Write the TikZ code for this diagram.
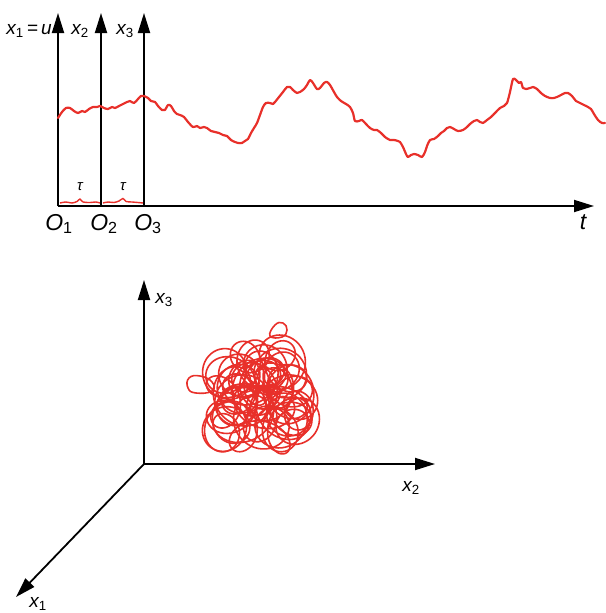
\documentclass[tikz,border=0pt]{standalone}
\usepackage{fontspec}
\setmainfont{Liberation Sans}
\usetikzlibrary{arrows.meta}
\definecolor{curvered}{HTML}{E8302A}
\tikzset{
  axis/.style={line width=1.8pt,-{Triangle[length=20pt,width=12pt]}},
  signal/.style={curvered,line width=2.2pt,line join=round,line cap=round},
  lbl/.style={font=\itshape\fontsize{19}{19}\selectfont,inner sep=0pt},
  olbl/.style={font=\itshape\fontsize{23}{23}\selectfont,inner sep=0pt},
  taul/.style={font=\itshape\fontsize{15}{15}\selectfont,inner sep=0pt},
  blob/.style={curvered,line width=1.6pt,line join=round},
}
\newcommand{\sub}[1]{\textsubscript{\upshape #1}}
\begin{document}
\begin{tikzpicture}[x=1pt,y=-1pt]
\useasboundingbox (0,0) rectangle (605,613);
% ---------- top diagram ----------
\coordinate (O1) at (58,206);
\coordinate (O2) at (101,206);
\coordinate (O3) at (144,206);
\coordinate (T1) at (58,13);
\coordinate (T2) at (101,13);
\coordinate (T3) at (144,13);
\coordinate (TE) at (594,206);
\draw[axis] (O1) -- (T1);
\draw[axis] (O2) -- (T2);
\draw[axis] (O3) -- (T3);
\draw[axis] (O1) -- (TE);
\node[lbl] (lx1) at (29,31) {x\sub{1}\,=\,u};
\node[lbl] (lx2) at (80,31) {x\sub{2}};
\node[lbl] (lx3) at (125,31) {x\sub{3}};
\node[olbl] (lO1) at (59,224) {O\sub{1}};
\node[olbl] (lO2) at (104,224) {O\sub{2}};
\node[olbl] (lO3) at (148,224) {O\sub{3}};
\node[olbl] (lt) at (583,222) {t};
\node[taul] (tau1) at (80,187) {τ};
\node[taul] (tau2) at (123,187) {τ};
% small correlation wiggles
\draw[curvered,line width=1.4pt] plot[smooth] coordinates {(60,203)(66,202)(72,203)(77,201.5)(80,199)(83,202)(90,202.5)(96,202)(100,203)};
\draw[curvered,line width=1.4pt] plot[smooth] coordinates {(103,203)(108,202)(114,202.5)(119,201)(123,198.5)(126,201.5)(132,202)(138,202.5)(143,203)};
% signal
\draw[signal] plot[smooth,tension=0.5] coordinates {
(58,118)(62,112)(66,108)(70,108)(74,111)(78,113)(82,111)(85,112)(89,109)(93,107)(97,107)(100,106)
(104,108)(108,109)(112,107)(115,108)(119,106)(123,104)(127,102)(130,101)(134,103)(138,99)(141,96)(144,96)
(148,98)(151,101)(155,102)(158,106)(162,110)(165,110)(168,105)(171,106)(174,111)(177,114)(180,115)(184,117)
(188,122)(193,127)(197,126)(200,128)(204,127)(207,128)(211,131)(215,132)(219,133)(223,135)(227,136)(231,140)
(235,142)(238,143)(242,143)(245,141)(248,139)(251,133)(254,128)(257,123)(260,115)(263,107)(266,103)(270,103)
(273,104)(275,102)(279,97)(283,92)(287,87)(290,87)(293,90)(297,93)(300,92)(304,89)(307,85)(310,80)
(313,83)(317,89)(320,88)(324,83)(327,82)(330,85)(334,92)(337,97)(341,101)(346,104)(350,107)(353,113)
(355,121)(359,121)(362,120)(366,124)(370,128)(374,130)(377,130)(381,133)(385,137)(390,140)(394,140)
(398,141)(400,142)(403,147)(406,154)(408,157)(411,155)(414,154)(418,155)(422,157)(425,152)(427,146)
(430,140)(434,139)(438,136)(441,133)(444,131)(447,128)(450,127)(454,129)(458,131)(463,130)(467,127)
(470,124)(474,121)(477,120)(480,122)(483,123)(487,120)(491,117)(495,113)(500,108)(504,106)(507,103)
(510,92)(513,79)(516,80)(519,83)(521,82)(523,88)(526,89)(530,88)(533,87)(537,89)(541,93)(545,96)
(550,98)(554,98)(557,97)(561,95)(565,93)(568,93)(572,96)(576,101)(580,103)(584,105)(588,107)(591,109)
(594,114)(598,120)(602,123)(605,123)};
% ---------- bottom diagram ----------
\coordinate (B) at (144,464);
\coordinate (B3) at (144,280);
\coordinate (B2) at (435,464);
\coordinate (B1) at (16,597);
\draw[axis] (B) -- (B3);
\draw[axis] (B) -- (B2);
\draw[axis] (B) -- (B1);
\node[lbl] (lb3) at (164,300) {x\sub{3}};
\node[lbl] (lb2) at (411,488) {x\sub{2}};
\node[lbl] (lb1) at (38,604) {x\sub{1}};
% turbulent trajectory
\draw[blob] plot[smooth,domain=0:360,samples=1200,variable=\t]
 ({262+30*sin(3*\t)+12*sin(7*\t+40)+19*cos(31*\t)+4*sin(17*\t)},
  {395+30*cos(4*\t+20)+12*sin(5*\t+100)+19*sin(31*\t)+4*cos(13*\t)});
\draw[blob] plot[smooth,domain=0:360,samples=800,variable=\t]
 ({258+34*sin(2*\t+70)+22*cos(19*\t)},
  {400+30*cos(3*\t+50)+22*sin(19*\t)});
\draw[blob] plot[smooth cycle,tension=0.8] coordinates {(212,382)(200,376)(189,378)(188,388)(196,393)(212,391)};
\draw[blob] plot[smooth cycle,tension=0.8] coordinates {(270,336)(275,325)(283,323)(287,330)(282,337)};
\end{tikzpicture}
\end{document}
